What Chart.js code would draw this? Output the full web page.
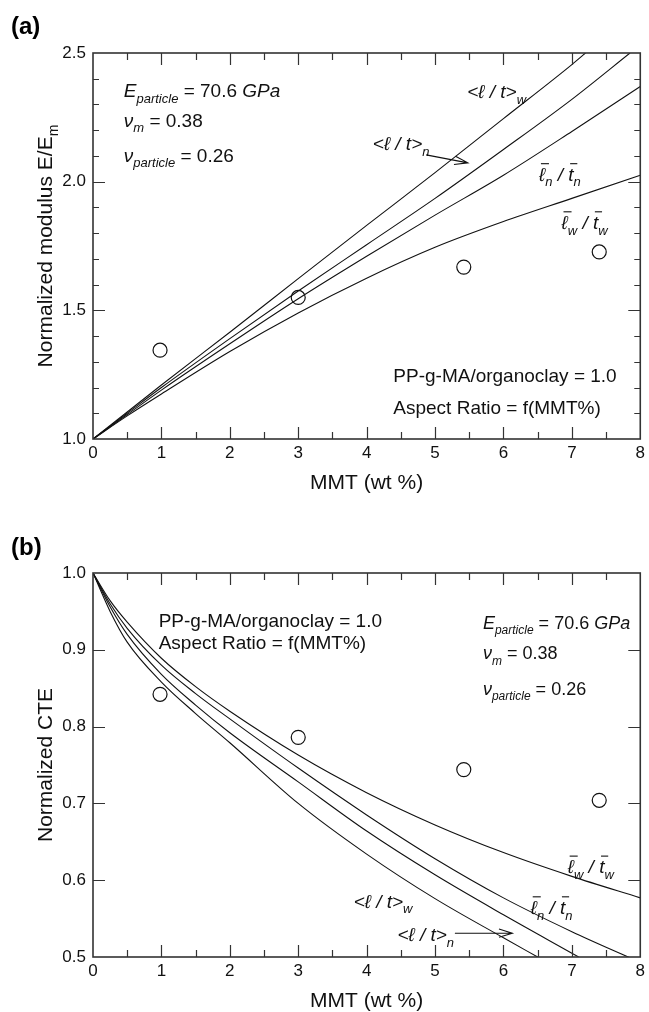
<!DOCTYPE html>
<html>
<head>
<meta charset="utf-8">
<script src="https://cdn.jsdelivr.net/npm/chart.js@4.4.0/dist/chart.umd.min.js"></script>
<style>
  html, body { margin: 0; padding: 0; background: #fff; }
  canvas { display: block; }
</style>
</head>
<body>
<canvas id="modChart" width="649" height="494"></canvas>
<canvas id="cteChart" width="649" height="518"></canvas>
<script>
const FONT = '"Liberation Sans", Arial, Helvetica, sans-serif';

// tick labels
const mmtTicks = [0, 1, 2, 3, 4, 5, 6, 7, 8];
const modTicks = [1.0, 1.5, 2.0, 2.5];
const cteTicks = [0.5, 0.6, 0.7, 0.8, 0.9, 1.0];

// measured points (open circles)
const mmtExp = [0.98, 3.0, 5.42, 7.4];
const modExp = [1.345, 1.55, 1.668, 1.727];
const cteExp = [0.842, 0.786, 0.744, 0.704];

// (a) model curves, normalized modulus
const modX_lw = [0, 0.5, 1, 2, 3, 4, 5, 6, 7, 7.2];
const mod_lw = [1.0, 1.105, 1.21, 1.415, 1.623, 1.83, 2.035, 2.245, 2.455, 2.5];
const modX_ln = [0, 0.5, 1, 2, 3, 4, 5, 6, 7, 7.85];
const mod_ln = [1.0, 1.1, 1.2, 1.39, 1.575, 1.755, 1.935, 2.125, 2.32, 2.5];
const modX_bn = [0, 0.5, 1, 2, 3, 4, 5, 6, 7, 8];
const mod_bn = [1.0, 1.095, 1.19, 1.37, 1.545, 1.71, 1.87, 2.025, 2.195, 2.37];
const modX_bw = [0, 0.5, 1, 2, 3, 4, 5, 6, 7, 8];
const mod_bw = [1.0, 1.09, 1.175, 1.34, 1.49, 1.625, 1.745, 1.845, 1.935, 2.025];

// (b) model curves, normalized CTE
const cteX_lw = [0, 0.25, 0.5, 1, 1.5, 2, 3, 4, 5, 6, 6.5];
const cte_lw = [1.0, 0.95, 0.91, 0.858, 0.817, 0.779, 0.70, 0.634, 0.576, 0.525, 0.5];
const cteX_ln = [0, 0.25, 0.5, 1, 1.5, 2, 3, 4, 5, 6, 7, 7.1];
const cte_ln = [1.0, 0.956, 0.92, 0.868, 0.828, 0.792, 0.728, 0.664, 0.607, 0.555, 0.505, 0.5];
const cteX_bn = [0, 0.25, 0.5, 1, 1.5, 2, 3, 4, 5, 6, 7, 7.9];
const cte_bn = [1.0, 0.96, 0.928, 0.88, 0.843, 0.81, 0.746, 0.685, 0.628, 0.577, 0.533, 0.497];
const cteX_bw = [0, 0.25, 0.5, 1, 1.5, 2, 3, 4, 5, 6, 7, 8];
const cte_bw = [1.0, 0.964, 0.936, 0.889, 0.852, 0.82, 0.763, 0.714, 0.672, 0.636, 0.605, 0.577];

// label pieces
const txtLw = [{ t: '<\u2113 / t>', it: 1 }, { t: 'w', it: 1, sub: 1 }];
const txtLn = [{ t: '<\u2113 / t>', it: 1 }, { t: 'n', it: 1, sub: 1 }];
const txtBn = [{ t: '\u2113', it: 1, bar: 1 }, { t: 'n', it: 1, sub: 1 }, { t: ' / ', it: 1 }, { t: 't', it: 1, bar: 1 }, { t: 'n', it: 1, sub: 1 }];
const txtBw = [{ t: '\u2113', it: 1, bar: 1 }, { t: 'w', it: 1, sub: 1 }, { t: ' / ', it: 1 }, { t: 't', it: 1, bar: 1 }, { t: 'w', it: 1, sub: 1 }];
const txtE = [{ t: 'E', it: 1 }, { t: 'particle', it: 1, sub: 1 }, { t: ' = 70.6 ' }, { t: 'GPa', it: 1 }];
const txtNm = [{ t: '\u03bd', it: 1 }, { t: 'm', it: 1, sub: 1 }, { t: ' = 0.38' }];
const txtNp = [{ t: '\u03bd', it: 1 }, { t: 'particle', it: 1, sub: 1 }, { t: ' = 0.26' }];
const txtPP = [{ t: 'PP-g-MA/organoclay = 1.0' }];
const txtAR = [{ t: 'Aspect Ratio = f(MMT%)' }];

function pts(xs, ys) {
    return xs.map((x, i) => ({ x: x, y: ys[i] }));
}

function curve(xs, ys) {
    return {
        data: pts(xs, ys),
        showLine: true,
        borderColor: '#111',
        borderWidth: 1.1,
        pointRadius: 0,
        cubicInterpolationMode: 'monotone',
        fill: false
    };
}

function circles(xs, ys) {
    return {
        data: pts(xs, ys),
        showLine: false,
        pointStyle: 'circle',
        pointRadius: 7,
        borderColor: '#111',
        borderWidth: 1.2,
        backgroundColor: 'rgba(0,0,0,0)'
    };
}

// rich text: parts with italic / subscript / overbar
function partFont(p, size) {
    const fs = p.sub ? Math.round(size * 0.68) : size;
    return (p.it ? 'italic ' : '') + fs + 'px ' + FONT;
}

function richWidth(ctx, parts, size) {
    let w = 0;
    parts.forEach(p => {
        ctx.font = partFont(p, size);
        w += ctx.measureText(p.t).width;
    });
    return w;
}

function richText(ctx, x, yc, parts, size) {
    const base = yc + size * 0.36;
    let cx = x;
    ctx.textBaseline = 'alphabetic';
    ctx.textAlign = 'left';
    parts.forEach(p => {
        ctx.font = partFont(p, size);
        const dy = p.sub ? size * 0.3 : 0;
        ctx.fillText(p.t, cx, base + dy);
        const w = ctx.measureText(p.t).width;
        if (p.bar) {
            ctx.beginPath();
            ctx.lineWidth = 1.1;
            ctx.moveTo(cx + size * 0.1, base - size * 0.9);
            ctx.lineTo(cx + w + size * 0.2, base - size * 0.9);
            ctx.stroke();
        }
        cx += w;
    });
}

const panelDecor = {
    id: 'panelDecor',
    afterDraw(chart, args, opts) {
        const { ctx, chartArea: a, scales: { x, y } } = chart;
        ctx.save();
        ctx.fillStyle = '#111';

        // frame
        ctx.lineWidth = 1.6;
        ctx.strokeStyle = '#333';
        ctx.strokeRect(a.left, a.top, a.right - a.left, a.bottom - a.top);

        // inward ticks, x every 0.5
        ctx.lineWidth = 1.2;
        ctx.beginPath();
        for (let i = 1; i < 16; i++) {
            const px = Math.round(x.getPixelForValue(i * 0.5)) + 0.5;
            const len = i % 2 === 0 ? 12 : 7;
            ctx.moveTo(px, a.bottom); ctx.lineTo(px, a.bottom - len);
            ctx.moveTo(px, a.top); ctx.lineTo(px, a.top + len);
        }
        // inward ticks, y
        const n = Math.round((y.max - y.min) / opts.yStep);
        for (let i = 1; i < n; i++) {
            const py = Math.round(y.getPixelForValue(y.min + i * opts.yStep)) + 0.5;
            const len = i % opts.yMajor === 0 ? 12 : 6;
            ctx.moveTo(a.left, py); ctx.lineTo(a.left + len, py);
            ctx.moveTo(a.right, py); ctx.lineTo(a.right - len, py);
        }
        ctx.stroke();

        // panel letter
        ctx.fillStyle = '#000';
        ctx.font = 'bold 24px ' + FONT;
        ctx.textBaseline = 'middle';
        ctx.textAlign = 'left';
        ctx.fillText(opts.letter, 11, opts.letterY);

        // y title
        ctx.save();
        ctx.fillStyle = '#111';
        ctx.translate(44, (a.top + a.bottom) / 2);
        ctx.rotate(-Math.PI / 2);
        const tw = richWidth(ctx, opts.yTitle, 21);
        richText(ctx, -tw / 2, 0, opts.yTitle, 21);
        ctx.restore();

        // notes
        ctx.fillStyle = '#111';
        ctx.strokeStyle = '#111';
        opts.notes.forEach(nt => {
            richText(ctx, x.getPixelForValue(nt.x), y.getPixelForValue(nt.y), nt.parts, nt.size || 19);
        });

        // arrow
        const ar = opts.arrow;
        const x1 = x.getPixelForValue(ar.from[0]), y1 = y.getPixelForValue(ar.from[1]);
        const x2 = x.getPixelForValue(ar.to[0]), y2 = y.getPixelForValue(ar.to[1]);
        const ang = Math.atan2(y2 - y1, x2 - x1);
        ctx.lineWidth = 1.1;
        ctx.beginPath();
        ctx.moveTo(x1, y1); ctx.lineTo(x2, y2);
        ctx.moveTo(x2 - 14 * Math.cos(ang - 0.3), y2 - 14 * Math.sin(ang - 0.3));
        ctx.lineTo(x2, y2);
        ctx.lineTo(x2 - 14 * Math.cos(ang + 0.3), y2 - 14 * Math.sin(ang + 0.3));
        ctx.stroke();
        ctx.restore();
    }
};

function makeChart(id, datasets, yMin, yMax, yTicks, padTop, decor) {
    return new Chart(document.getElementById(id), {
        type: 'scatter',
        data: { datasets: datasets },
        options: {
            responsive: false,
            animation: false,
            devicePixelRatio: 1,
            layout: { padding: { top: padTop, right: 6, left: 0, bottom: 0 } },
            plugins: {
                legend: { display: false },
                tooltip: { enabled: false },
                panelDecor: decor
            },
            scales: {
                x: {
                    type: 'linear', min: 0, max: 8,
                    afterBuildTicks: s => { s.ticks = mmtTicks.map(v => ({ value: v })); },
                    afterFit: s => { s.height = 55; },
                    grid: { display: false, drawTicks: false },
                    border: { display: false },
                    ticks: {
                        padding: 4, color: '#111', autoSkip: false, maxRotation: 0,
                        font: { family: FONT, size: 17 },
                        callback: v => String(v)
                    },
                    title: {
                        display: true, text: 'MMT (wt %)', color: '#111',
                        font: { family: FONT, size: 21, lineHeight: 1 },
                        padding: { top: 0, bottom: 0 }
                    }
                },
                y: {
                    type: 'linear', min: yMin, max: yMax,
                    afterBuildTicks: s => { s.ticks = yTicks.map(v => ({ value: v })); },
                    afterFit: s => { s.width = 93; },
                    grid: { display: false, drawTicks: false },
                    border: { display: false },
                    ticks: {
                        padding: 7, color: '#111', autoSkip: false,
                        font: { family: FONT, size: 17 },
                        callback: v => v.toFixed(1)
                    }
                }
            }
        },
        plugins: [panelDecor]
    });
}

makeChart('modChart', [
    curve(modX_lw, mod_lw),
    curve(modX_ln, mod_ln),
    curve(modX_bn, mod_bn),
    curve(modX_bw, mod_bw),
    circles(mmtExp, modExp)
], 1.0, 2.5, modTicks, 53, {
    letter: '(a)', letterY: 27, yStep: 0.1, yMajor: 5,
    yTitle: [{ t: 'Normalized modulus E/E' }, { t: 'm', sub: 1 }],
    notes: [
        { x: 0.45, y: 2.356, parts: txtE },
        { x: 0.45, y: 2.24, parts: txtNm },
        { x: 0.45, y: 2.104, parts: txtNp },
        { x: 5.47, y: 2.352, parts: txtLw },
        { x: 4.09, y: 2.149, parts: txtLn },
        { x: 6.52, y: 2.03, parts: txtBn },
        { x: 6.85, y: 1.843, parts: txtBw },
        { x: 4.39, y: 1.249, parts: txtPP },
        { x: 4.39, y: 1.124, parts: txtAR }
    ],
    arrow: { from: [4.87, 2.104], to: [5.48, 2.073] }
});

makeChart('cteChart', [
    curve(cteX_lw, cte_lw),
    curve(cteX_ln, cte_ln),
    curve(cteX_bn, cte_bn),
    curve(cteX_bw, cte_bw),
    circles(mmtExp, cteExp)
], 0.5, 1.0, cteTicks, 79, {
    letter: '(b)', letterY: 54, yStep: 0.1, yMajor: 1,
    yTitle: [{ t: 'Normalized CTE' }],
    notes: [
        { x: 0.96, y: 0.939, parts: txtPP },
        { x: 0.96, y: 0.910, parts: txtAR },
        { x: 5.7, y: 0.936, parts: txtE, size: 18 },
        { x: 5.7, y: 0.896, parts: txtNm, size: 18 },
        { x: 5.7, y: 0.850, parts: txtNp, size: 18 },
        { x: 6.94, y: 0.618, parts: txtBw },
        { x: 6.40, y: 0.565, parts: txtBn },
        { x: 3.81, y: 0.573, parts: txtLw },
        { x: 4.45, y: 0.530, parts: txtLn }
    ],
    arrow: { from: [5.29, 0.531], to: [6.13, 0.531] }
});
</script>
</body>
</html>
